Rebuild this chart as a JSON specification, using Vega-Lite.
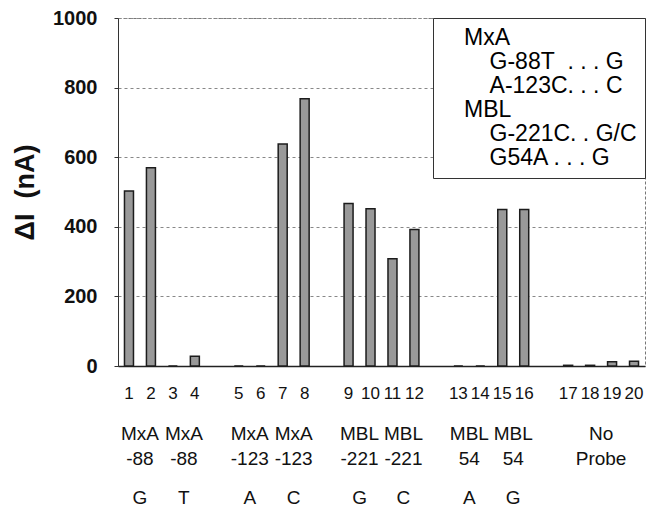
{
  "$schema": "https://vega.github.io/schema/vega-lite/v6.json",
  "width": 527,
  "height": 348,
  "autosize": {"type": "none"},
  "padding": {"left": 118, "top": 18, "right": 5, "bottom": 142},
  "background": "white",
  "config": {
    "font": "Liberation Sans",
    "view": {"stroke": "#777", "strokeDash": [3, 2], "strokeWidth": 1},
    "legend": {
      "orient": "top-right",
      "offset": 0,
      "padding": 8,
      "strokeColor": "#333",
      "fillColor": "white",
      "labelFontSize": 23,
      "labelColor": "black",
      "labelLimit": 400,
      "rowPadding": -1,
      "symbolSize": 0,
      "symbolOpacity": 0,
      "symbolStrokeWidth": 0,
      "labelOffset": 0
    }
  },
  "datasets": {
    "bars": [
      {"lane": "1", "value": 503},
      {"lane": "2", "value": 570},
      {"lane": "3", "value": 0},
      {"lane": "4", "value": 28},
      {"lane": "5", "value": 0},
      {"lane": "6", "value": 0},
      {"lane": "7", "value": 638},
      {"lane": "8", "value": 768},
      {"lane": "9", "value": 467},
      {"lane": "10", "value": 452},
      {"lane": "11", "value": 308},
      {"lane": "12", "value": 392},
      {"lane": "13", "value": 0},
      {"lane": "14", "value": 0},
      {"lane": "15", "value": 450},
      {"lane": "16", "value": 450},
      {"lane": "17", "value": 2},
      {"lane": "18", "value": 2},
      {"lane": "19", "value": 12},
      {"lane": "20", "value": 14}
    ],
    "groups": [
      {"lane": "1", "probe": "MxA", "pos": "-88", "allele": "G"},
      {"lane": "3", "probe": "MxA", "pos": "-88", "allele": "T"},
      {"lane": "5", "probe": "MxA", "pos": "-123", "allele": "A"},
      {"lane": "7", "probe": "MxA", "pos": "-123", "allele": "C"},
      {"lane": "9", "probe": "MBL", "pos": "-221", "allele": "G"},
      {"lane": "11", "probe": "MBL", "pos": "-221", "allele": "C"},
      {"lane": "13", "probe": "MBL", "pos": "54", "allele": "A"},
      {"lane": "15", "probe": "MBL", "pos": "54", "allele": "G"},
      {"lane": "18", "probe": "No", "pos": "Probe", "allele": ""}
    ],
    "legend": [
      {"entry": "MxA"},
      {"entry": "\u200b\u00a0\u00a0\u00a0\u00a0G-88T\u00a0\u00a0. . . G"},
      {"entry": "\u200b\u00a0\u00a0\u00a0\u00a0A-123C. . . C"},
      {"entry": "MBL"},
      {"entry": "\u200b\u00a0\u00a0\u00a0\u00a0G-221C. . G/C"},
      {"entry": "\u200b\u00a0\u00a0\u00a0\u00a0G54A . . . G"}
    ]
  },
  "layer": [
    {
      "data": {"name": "bars"},
      "mark": {"type": "bar", "width": 9, "fill": "#999999", "stroke": "#1c1c1c", "strokeWidth": 1.5},
      "encoding": {
        "x": {
          "field": "lane",
          "type": "ordinal",
          "scale": {
            "type": "band",
            "domain": ["1", "2", "3", "4", " ", "5", "6", "7", "8", "  ", "9", "10", "11", "12", "   ", "13", "14", "15", "16", "    ", "17", "18", "19", "20"],
            "paddingInner": 0,
            "paddingOuter": 0
          },
          "axis": {
            "title": null,
            "labelAngle": 0,
            "labelFontSize": 17,
            "labelColor": "#111",
            "labelPadding": 19,
            "ticks": false,
            "domainColor": "#222",
            "domainWidth": 1.5,
            "labelOverlap": false,
            "grid": false
          }
        },
        "y": {
          "field": "value",
          "type": "quantitative",
          "scale": {"domain": [0, 1000], "nice": false},
          "axis": {
            "title": "ΔI\u00a0 (nA)",
            "values": [0, 200, 400, 600, 800, 1000],
            "format": "d",
            "grid": true,
            "gridDash": [3, 3],
            "gridColor": "#888",
            "labelFontSize": 20,
            "labelFontWeight": "bold",
            "labelColor": "#111",
            "labelPadding": 17,
            "tickSize": 4,
            "tickColor": "#333",
            "domainColor": "#333",
            "titleFontSize": 27,
            "titleFontWeight": "bold",
            "titleColor": "#111",
            "titlePadding": 13
          }
        }
      }
    },
    {
      "data": {"name": "groups"},
      "mark": {"type": "text", "fontSize": 19, "baseline": "middle", "align": "center", "color": "#111"},
      "encoding": {
        "x": {"field": "lane", "type": "ordinal", "scale": {"type": "band"}, "bandPosition": 1},
        "y": {"datum": -194, "type": "quantitative"},
        "text": {"field": "probe"}
      }
    },
    {
      "data": {"name": "groups"},
      "mark": {"type": "text", "fontSize": 19, "baseline": "middle", "align": "center", "color": "#111"},
      "encoding": {
        "x": {"field": "lane", "type": "ordinal", "scale": {"type": "band"}, "bandPosition": 1},
        "y": {"datum": -267, "type": "quantitative"},
        "text": {"field": "pos"}
      }
    },
    {
      "data": {"name": "groups"},
      "mark": {"type": "text", "fontSize": 19, "baseline": "middle", "align": "center", "color": "#111"},
      "encoding": {
        "x": {"field": "lane", "type": "ordinal", "scale": {"type": "band"}, "bandPosition": 1},
        "y": {"datum": -378, "type": "quantitative"},
        "text": {"field": "allele"}
      }
    },
    {
      "data": {"name": "legend"},
      "mark": {"type": "point", "opacity": 0},
      "encoding": {
        "color": {
          "field": "entry",
          "type": "nominal",
          "scale": {
            "domain": ["MxA", "\u200b\u00a0\u00a0\u00a0\u00a0G-88T\u00a0\u00a0. . . G", "\u200b\u00a0\u00a0\u00a0\u00a0A-123C. . . C", "MBL", "\u200b\u00a0\u00a0\u00a0\u00a0G-221C. . G/C", "\u200b\u00a0\u00a0\u00a0\u00a0G54A . . . G"],
            "range": ["white", "white", "white", "white", "white", "white"]
          },
          "legend": {"title": null}
        }
      }
    }
  ]
}
